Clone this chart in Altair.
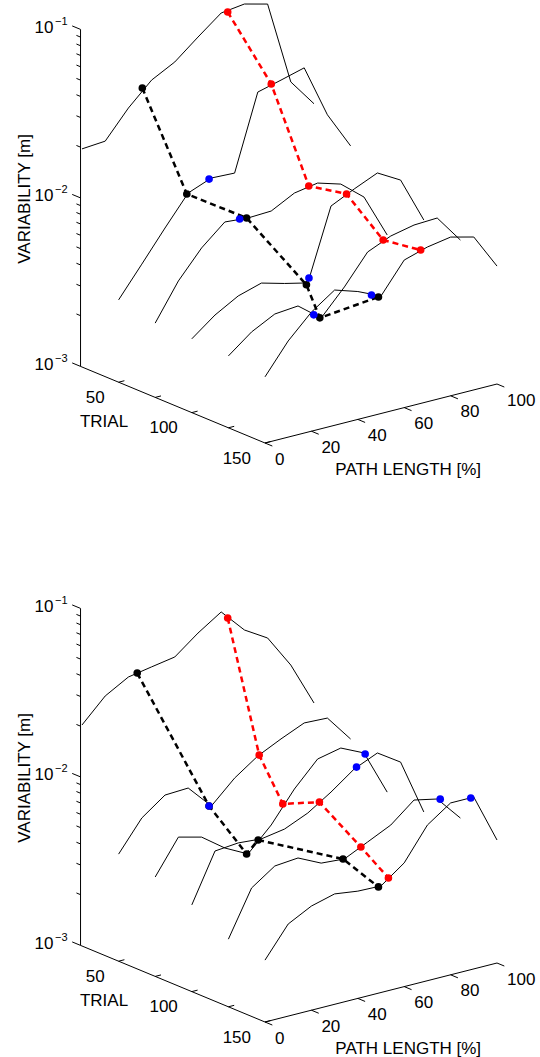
import altair as alt
import pandas as pd

# ---------------- data ----------------
PATH_PCT = [0, 10, 20, 30, 40, 50, 60, 70, 80, 90, 100]
TRIALS = [25, 50, 75, 100, 125, 150]
BLUE_TRIALS = [50, 75, 100, 125, 150]

# upper panel: variability [m] per trial block along the path
A_T25 = [0.0197, 0.0202, 0.0293, 0.0396, 0.0468, 0.0607, 0.0778, 0.0811, 0.0748, 0.0238, 0.0163]
A_T50 = [0.00308, 0.00463, 0.00700, 0.01042, 0.0118, 0.01164, 0.0325, 0.0353, 0.0385, 0.0187, 0.01128]
A_T75 = [0.00276, 0.00453, 0.00656, 0.00863, 0.00841, 0.00853, 0.01006, 0.01064, 0.00968, 0.00748, 0.00411]
A_T100 = [0.00274, 0.00350, 0.00419, 0.00461, 0.00423, 0.00393, 0.01037, 0.01208, 0.01387, 0.01161, 0.00621]
A_T125 = [0.00267, 0.00342, 0.00403, 0.00415, 0.00325, 0.00458, 0.00681, 0.00782, 0.00838, 0.00851, 0.00581]
A_T150 = [0.00247, 0.00372, 0.00509, 0.00635, 0.00574, 0.00498, 0.00751, 0.00828, 0.00875, 0.00808, 0.00501]

# lower panel
B_T25 = [0.0205, 0.0281, 0.0336, 0.0356, 0.0376, 0.0481, 0.0592, 0.0427, 0.0353, 0.0225, 0.01236]
B_T50 = [0.00432, 0.00653, 0.00824, 0.00837, 0.00604, 0.00816, 0.01018, 0.01186, 0.01361, 0.01342, 0.00930]
B_T75 = [0.00389, 0.00619, 0.00571, 0.00454, 0.00386, 0.00529, 0.00798, 0.01109, 0.01189, 0.01026, 0.00554]
B_T100 = [0.00327, 0.00630, 0.00649, 0.00633, 0.00668, 0.00767, 0.00942, 0.01191, 0.01368, 0.01114, 0.00520]
B_T125 = [0.00252, 0.00468, 0.00583, 0.00600, 0.00516, 0.00504, 0.00586, 0.00682, 0.00885, 0.00828, 0.00589]
B_T150 = [0.00233, 0.00352, 0.00415, 0.00452, 0.00433, 0.00429, 0.00542, 0.00839, 0.01047, 0.01047, 0.00537]

# marker points (path %, variability)
A_BLACK_PATH = [26.0, 29.4, 39.4, 49.4, 39.4, 48.9]
A_BLACK_V = [0.0367, 0.01033, 0.00845, 0.00385, 0.00327, 0.00496]
A_RED_PATH = [62.8, 65.8, 66.2, 66.7, 66.7, 67.1]
A_RED_V = [0.0771, 0.0346, 0.01054, 0.01159, 0.00760, 0.00813]
A_BLUE_PATH = [39.0, 36.4, 50.5, 36.8, 45.9]
A_BLUE_V = [0.01172, 0.00853, 0.00419, 0.00348, 0.00522]

B_BLACK_PATH = [23.8, 39.0, 39.4, 28.6, 49.4, 48.9]
B_BLACK_V = [0.0344, 0.00609, 0.00388, 0.00630, 0.00506, 0.00427]
B_RED_PATH = [62.8, 60.6, 55.0, 55.0, 57.1, 53.2]
B_RED_V = [0.0533, 0.01026, 0.00678, 0.00855, 0.00560, 0.00466]
B_BLUE_PATH = [39.0, 90.5, 71.0, 91.3, 88.7]
B_BLUE_V = [0.00609, 0.01007, 0.01213, 0.00818, 0.01045]

# axes
TRIAL_LIM = [24, 150]
PATH_LIM = [0, 100]
VAR_LIM = [0.001, 0.1]
Z_MAJOR = [0.001, 0.01, 0.1]
Z_MINOR = [0.002, 0.003, 0.004, 0.005, 0.006, 0.007, 0.008, 0.009,
           0.02, 0.03, 0.04, 0.05, 0.06, 0.07, 0.08, 0.09]
Z_EXP = ["\u22123", "\u22122", "\u22121"]
TRIAL_TICKS = [50, 75, 100, 125, 150]
TRIAL_LABELS = [50, 100, 150]
PATH_TICKS = [0, 20, 40, 60, 80, 100]

PANELS = ["A", "B"]

# ---------------- tables ----------------
curve_sets = {"A": [A_T25, A_T50, A_T75, A_T100, A_T125, A_T150],
              "B": [B_T25, B_T50, B_T75, B_T100, B_T125, B_T150]}
curves = pd.DataFrame([
    dict(panel=pn, trial=t, path=p, v=v)
    for pn in PANELS
    for t, vals in zip(TRIALS, curve_sets[pn])
    for p, v in zip(PATH_PCT, vals)
])

def dots_df(panel, trials, paths, vals, kind):
    return pd.DataFrame([dict(panel=panel, trial=t, path=p, v=v, kind=kind)
                         for t, p, v in zip(trials, paths, vals)])

black = pd.concat([dots_df("A", TRIALS, A_BLACK_PATH, A_BLACK_V, "black"),
                   dots_df("B", TRIALS, B_BLACK_PATH, B_BLACK_V, "black")])
red = pd.concat([dots_df("A", TRIALS, A_RED_PATH, A_RED_V, "red"),
                 dots_df("B", TRIALS, B_RED_PATH, B_RED_V, "red")])
blue = pd.concat([dots_df("A", BLUE_TRIALS, A_BLUE_PATH, A_BLUE_V, "blue"),
                  dots_df("B", BLUE_TRIALS, B_BLUE_PATH, B_BLUE_V, "blue")])

frame = pd.DataFrame([
    dict(panel=pn, seq=i, trial=t, path=p, v=v)
    for pn in PANELS
    for i, (t, p, v) in enumerate([(TRIAL_LIM[0], PATH_LIM[0], VAR_LIM[1]),
                                   (TRIAL_LIM[0], PATH_LIM[0], VAR_LIM[0]),
                                   (TRIAL_LIM[1], PATH_LIM[0], VAR_LIM[0]),
                                   (TRIAL_LIM[1], PATH_LIM[1], VAR_LIM[0])])
])

tick_rows = []
for pn in PANELS:
    for z in Z_MAJOR:
        tick_rows.append(dict(panel=pn, trial=TRIAL_LIM[0], path=0, v=z, kind="zmaj"))
    for z in Z_MINOR:
        tick_rows.append(dict(panel=pn, trial=TRIAL_LIM[0], path=0, v=z, kind="zmin"))
    for t in TRIAL_TICKS:
        tick_rows.append(dict(panel=pn, trial=t, path=0, v=VAR_LIM[0], kind="trial"))
    for p in PATH_TICKS:
        tick_rows.append(dict(panel=pn, trial=TRIAL_LIM[1], path=p, v=VAR_LIM[0], kind="path"))
ticks = pd.DataFrame(tick_rows)

zlab = pd.DataFrame([dict(panel=pn, trial=TRIAL_LIM[0], path=0, v=z, base="10", exp=e)
                     for pn in PANELS for z, e in zip(Z_MAJOR, Z_EXP)])
tlab = pd.DataFrame([dict(panel=pn, trial=t, path=0, v=VAR_LIM[0], text=str(t))
                     for pn in PANELS for t in TRIAL_LABELS])
plab = pd.DataFrame([dict(panel=pn, trial=TRIAL_LIM[1], path=p, v=VAR_LIM[0], text=str(p))
                     for pn in PANELS for p in PATH_TICKS])
ztitle = pd.DataFrame([dict(panel=pn, trial=TRIAL_LIM[0], path=0, v=0.01, text="VARIABILITY [m]")
                       for pn in PANELS])
ttitle = pd.DataFrame([dict(panel=pn, trial=50, path=0, v=VAR_LIM[0], text="TRIAL")
                       for pn in PANELS])
ptitle = pd.DataFrame([dict(panel=pn, trial=TRIAL_LIM[1], path=60, v=VAR_LIM[0], text="PATH LENGTH [%]")
                       for pn in PANELS])

# ---------------- 3-D view projection ----------------
PX = "82 + 1.464*(datum.trial - 25) + 2.32*datum.path"
PY = ("(datum.panel == 'A' ? 367 : 946) + 0.608*(datum.trial - 25) - 0.59*datum.path"
      " - 168.5*(log(datum.v)/LN10 + 3)")

X = alt.X("px:Q", scale=alt.Scale(domain=[0, 540], nice=False, zero=False), axis=None)
Y = alt.Y("py:Q", scale=alt.Scale(domain=[0, 1057], reverse=True, nice=False, zero=False), axis=None)

def base(df):
    return alt.Chart(df).transform_calculate(px=PX, py=PY)

FONT = "Liberation Sans"

curve_layer = base(curves).mark_line(color="black", strokeWidth=1).encode(
    x=X, y=Y, detail=["panel:N", "trial:Q"], order=alt.Order("path:Q"))

frame_layer = base(frame).mark_line(color="black", strokeWidth=1).encode(
    x=X, y=Y, detail="panel:N", order=alt.Order("seq:Q"))

tick_layer = base(ticks).transform_calculate(
    dT="datum.kind == 'zmaj' ? -5.7 : (datum.kind == 'zmin' ? -2.8 : (datum.kind == 'path' ? 5 : 0))",
    dp="datum.kind == 'trial' ? 2.5 : 0",
).transform_calculate(
    px2="datum.px + 1.464*datum.dT + 2.32*datum.dp",
    py2="datum.py + 0.608*datum.dT - 0.59*datum.dp",
).mark_rule(color="black", strokeWidth=1).encode(
    x=X, y=Y, x2=alt.X2("px2:Q"), y2=alt.Y2("py2:Q"))

black_line = base(black).mark_line(color="black", strokeWidth=2.5, strokeDash=[6, 4]).encode(
    x=X, y=Y, detail="panel:N", order=alt.Order("trial:Q"))
red_line = base(red).mark_line(color="#ff0000", strokeWidth=2.5, strokeDash=[6, 4]).encode(
    x=X, y=Y, detail="panel:N", order=alt.Order("trial:Q"))

black_dots = base(black).mark_circle(color="black", size=58, opacity=1).encode(x=X, y=Y)
blue_dots = base(blue).mark_circle(color="#0000ff", size=58, opacity=1).encode(x=X, y=Y)
red_dots = base(red).mark_circle(color="#ff0000", size=58, opacity=1).encode(x=X, y=Y)

zlab_layer = base(zlab).mark_text(font=FONT, fontSize=17, align="right", baseline="alphabetic",
                                  dx=-27, dy=3.5, color="black").encode(x=X, y=Y, text="base:N")
zexp_layer = base(zlab).mark_text(font=FONT, fontSize=11, align="left", baseline="alphabetic",
                                  dx=-25.5, dy=-4.5, color="black").encode(x=X, y=Y, text="exp:N")
tlab_layer = base(tlab).mark_text(font=FONT, fontSize=17, align="right", baseline="alphabetic",
                                  dx=-14, dy=20.5, color="black").encode(x=X, y=Y, text="text:N")
plab_layer = base(plab).mark_text(font=FONT, fontSize=17, align="left", baseline="alphabetic",
                                  dx=10, dy=21.5, color="black").encode(x=X, y=Y, text="text:N")
ztitle_layer = base(ztitle).mark_text(font=FONT, fontSize=17, align="center", baseline="alphabetic",
                                      angle=270, dx=-1, dy=-50.5, color="black").encode(x=X, y=Y, text="text:N")
ttitle_layer = base(ttitle).mark_text(font=FONT, fontSize=17, align="right", baseline="alphabetic",
                                      dx=9.5, dy=45, color="black").encode(x=X, y=Y, text="text:N")
ptitle_layer = base(ptitle).mark_text(font=FONT, fontSize=17, align="center", baseline="alphabetic",
                                      dx=4, dy=67.5, color="black").encode(x=X, y=Y, text="text:N")

chart = alt.layer(
    frame_layer, tick_layer, curve_layer, black_line, red_line,
    black_dots, blue_dots, red_dots,
    zlab_layer, zexp_layer, tlab_layer, plab_layer,
    ztitle_layer, ttitle_layer, ptitle_layer,
).properties(width=540, height=1057, padding=0).configure_view(stroke=None)

chart.save("out.html", embed_options={"renderer": "svg", "actions": False})
